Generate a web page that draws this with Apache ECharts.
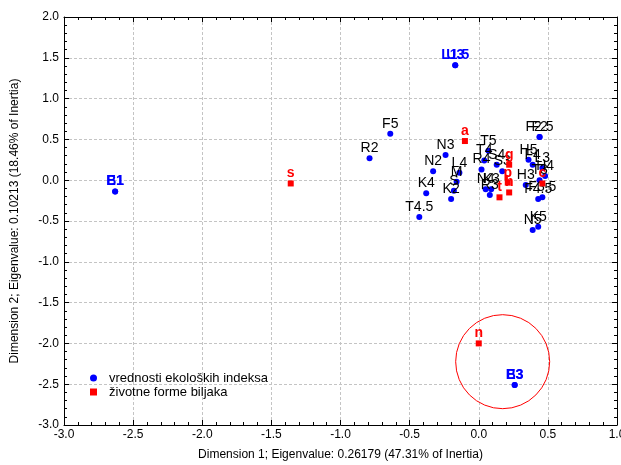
<!DOCTYPE html>
<html>
<head>
<meta charset="utf-8">
<script src="https://cdn.jsdelivr.net/npm/echarts@6/dist/echarts.min.js"></script>
<style>
  html, body { margin: 0; padding: 0; background: #fff; }
  #chart { width: 621px; height: 465px; }
</style>
</head>
<body>
<div id="chart"></div>
<script>
// vrednosti ekoloških indeksa (plave tačke)
var indexLabels = ['B1', 'E1', 'L1.5', 'U3', 'R2', 'F5', 'N3', 'N2', 'K4', 'T4.5', 'L4', 'M', 'S', 'K2',
                   'T5', 'T4', 'R4', 'S4', 'S3', 'N4', 'K3', 'R3',
                   'F2', 'F2.5', 'H5', 'F4', 'L3', 'H4', 'T3', 'H3', 'F4.5', 'F3.5', 'K5', 'N5', 'B3', 'E3'];
var indexX = [-2.63, -2.63, -0.17, -0.17, -0.79, -0.64, -0.24, -0.33, -0.38, -0.43, -0.14, -0.16, -0.18, -0.20,
              0.07, 0.04, 0.02, 0.13, 0.17, 0.05, 0.09, 0.08,
              0.44, 0.44, 0.36, 0.39, 0.46, 0.48, 0.44, 0.34, 0.43, 0.46, 0.43, 0.39, 0.26, 0.26];
var indexY = [-0.14, -0.14, 1.41, 1.41, 0.27, 0.57, 0.31, 0.11, -0.16, -0.45, 0.09, -0.02, -0.13, -0.23,
              0.36, 0.24, 0.13, 0.19, 0.11, -0.11, -0.11, -0.18,
              0.53, 0.53, 0.25, 0.19, 0.15, 0.05, 0.00, -0.06, -0.23, -0.21, -0.57, -0.61, -2.51, -2.51];
// oznake obojene plavo na originalu
var blueLabels = ['B1', 'E1', 'L1.5', 'U3', 'B3', 'E3'];

// životne forme biljaka (crveni kvadrati)
var formLabels = ['s', 'a', 'g', 'p', 'h', 't', 'c', 'n'];
var formX = [-1.36, -0.10, 0.22, 0.21, 0.22, 0.15, 0.46, 0.00];
var formY = [-0.04, 0.48, 0.19, -0.03, -0.15, -0.21, -0.04, -2.00];

// zaokruženi deo (centar i poluprečnik u jedinicama ose x)
var circleCenter = [0.173, -2.224];
var circleRadius = 0.34;

var xName = 'Dimension 1; Eigenvalue: 0.26179 (47.31% of Inertia)';
var yName = 'Dimension 2; Eigenvalue: 0.10213 (18.46% of Inertia)';

var font = '"Liberation Sans", Arial, sans-serif';

var indexData = indexLabels.map(function (name, i) {
  var item = { value: [indexX[i], indexY[i], name] };
  if (blueLabels.indexOf(name) >= 0) item.label = { color: '#0000ff', fontWeight: 'bold' };
  return item;
});
var formData = formLabels.map(function (name, i) {
  return { value: [formX[i], formY[i], name] };
});

function frameAxis(pos, min, max, interval, minorSplit) {
  return {
    type: 'value', position: pos, min: min, max: max, interval: interval,
    axisLine: { show: true, onZero: false, lineStyle: { color: '#000', width: 1 } },
    axisTick: { show: true, inside: true, length: 5, lineStyle: { color: '#000' } },
    minorTick: { show: true, splitNumber: minorSplit, length: 3, lineStyle: { color: '#000' } },
    axisLabel: { show: false },
    splitLine: { show: false }
  };
}

var chart = echarts.init(document.getElementById('chart'));
chart.setOption({
  backgroundColor: '#fff',
  animation: false,
  textStyle: { fontFamily: font },
  grid: { left: 64, right: 4, top: 17, bottom: 40, outerBoundsMode: 'none', containLabel: false },
  legend: {
    orient: 'vertical', left: 85, top: 366,
    itemWidth: 7, itemHeight: 7, itemGap: 0,
    textStyle: { fontSize: 13, color: '#000', fontFamily: font, lineHeight: 14, padding: [0, 0, 0, 7] },
    data: ['vrednosti ekoloških indeksa', 'životne forme biljaka']
  },
  xAxis: [
    {
      type: 'value', position: 'bottom', min: -3, max: 1, interval: 0.5,
      name: xName, nameLocation: 'middle', nameGap: 24,
      nameTextStyle: { fontSize: 12, color: '#000', fontFamily: font },
      axisLine: { show: true, onZero: false, lineStyle: { color: '#000', width: 1 } },
      axisTick: { show: true, inside: true, length: 5, lineStyle: { color: '#000' } },
      minorTick: { show: true, splitNumber: 5, length: 3, lineStyle: { color: '#000' } },
      axisLabel: { fontSize: 12, color: '#000', margin: 4, formatter: function (v) { return v.toFixed(1); } },
      splitLine: { show: true, showMinLine: false, showMaxLine: false, lineStyle: { color: '#c4c4c4', type: [3, 2] } }
    },
    frameAxis('top', -3, 1, 0.5, 5)
  ],
  yAxis: [
    {
      type: 'value', position: 'left', min: -3, max: 2, interval: 0.5,
      name: yName, nameLocation: 'middle', nameGap: 43, nameRotate: 90,
      nameTextStyle: { fontSize: 12, color: '#000', fontFamily: font },
      axisLine: { show: true, onZero: false, lineStyle: { color: '#000', width: 1 } },
      axisTick: { show: true, inside: true, length: 5, lineStyle: { color: '#000' } },
      minorTick: { show: true, splitNumber: 5, length: 3, lineStyle: { color: '#000' } },
      axisLabel: { fontSize: 12, color: '#000', margin: 5, formatter: function (v) { return v.toFixed(1); } },
      splitLine: { show: true, showMinLine: false, showMaxLine: false, lineStyle: { color: '#c4c4c4', type: [3, 2] } }
    },
    frameAxis('right', -3, 2, 0.5, 5)
  ],
  series: [
    {
      name: 'vrednosti ekoloških indeksa',
      type: 'scatter', xAxisIndex: 0, yAxisIndex: 0,
      symbol: 'circle', symbolSize: 6,
      itemStyle: { color: '#0000ff', opacity: 1 },
      label: {
        show: true, position: 'top', distance: 0,
        fontSize: 14, color: '#000', fontFamily: font,
        formatter: function (p) { return p.data.value[2]; }
      },
      labelLayout: { hideOverlap: false },
      data: indexData,
      z: 3
    },
    {
      name: 'životne forme biljaka',
      type: 'scatter', xAxisIndex: 0, yAxisIndex: 0,
      symbol: 'rect', symbolSize: 6,
      itemStyle: { color: '#ff0000', opacity: 1 },
      label: {
        show: true, position: 'top', distance: 0,
        fontSize: 14, fontWeight: 'bold', color: '#ff0000', fontFamily: font,
        formatter: function (p) { return p.data.value[2]; }
      },
      data: formData,
      z: 4
    }
  ]
});

// crveni krug oko izdvojenih tačaka
var c = chart.convertToPixel({ xAxisIndex: 0, yAxisIndex: 0 }, circleCenter);
var edge = chart.convertToPixel({ xAxisIndex: 0, yAxisIndex: 0 }, [circleCenter[0] + circleRadius, circleCenter[1]]);
chart.setOption({
  graphic: [{
    type: 'circle', z: 10,
    shape: { cx: c[0], cy: c[1], r: edge[0] - c[0] },
    style: { fill: 'none', stroke: '#ff0000', lineWidth: 1 }
  }]
});
</script>
</body>
</html>
